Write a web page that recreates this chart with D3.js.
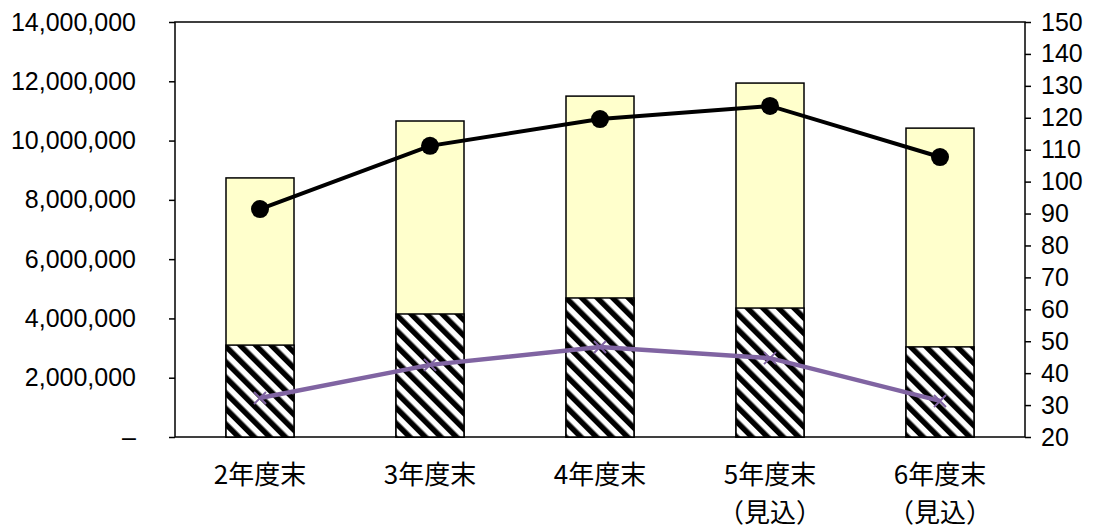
<!DOCTYPE html>
<html><head><meta charset="utf-8">
<script src="https://cdn.jsdelivr.net/npm/d3@7"></script>
<style>body{margin:0;background:#fff}svg{font-family:"Liberation Sans",Arial,sans-serif}</style>
</head><body><svg id="c" width="1109" height="531"></svg>
<script>
const categories=[["2年度末"],["3年度末"],["4年度末"],["5年度末","（見込）"],["6年度末","（見込）"]];
const totalValues=[8740000,10660000,11500000,11940000,10420000];
const hatchedValues=[3100000,4150000,4690000,4350000,3040000];
const blackLine=[91.4,111.2,119.6,123.7,107.7];
const purpleLine=[32.2,42.6,48.2,44.7,31.3];
const leftTicks=[0,2000000,4000000,6000000,8000000,10000000,12000000,14000000];
const rightTicks=d3.range(20,151,10);

const svg=d3.select("#c");
const L=175,R=1025,T=22,B=437;
const x=d3.scaleBand().domain(d3.range(5)).range([L,R]).paddingInner(0.6).paddingOuter(0.3);
const y=d3.scaleLinear().domain([0,14000000]).range([B,T]);
const y2=d3.scaleLinear().domain([20,150]).range([B,T]);

const defs=svg.append("defs");
const p=defs.append("pattern").attr("id","h").attr("patternUnits","userSpaceOnUse").attr("width",11).attr("height",11).attr("patternTransform","rotate(-45)");
p.append("rect").attr("width",11).attr("height",11).attr("fill","#fff");
p.append("rect").attr("x",0).attr("width",5.5).attr("height",11).attr("fill","#000");

svg.append("rect").attr("x",L).attr("y",T).attr("width",R-L).attr("height",B-T).attr("fill","none").attr("stroke","#000").attr("stroke-width",1.5);

const g=svg.append("g");
g.selectAll(".t").data(totalValues).join("rect").attr("x",(d,i)=>x(i)).attr("width",x.bandwidth())
 .attr("y",d=>y(d)).attr("height",d=>B-y(d)).attr("fill","#ffffcc").attr("stroke","#000").attr("stroke-width",1.5);
g.selectAll(".hh").data(hatchedValues).join("rect").attr("x",(d,i)=>x(i)).attr("width",x.bandwidth())
 .attr("y",d=>y(d)).attr("height",d=>B-y(d)).attr("fill","url(#h)").attr("stroke","#000").attr("stroke-width",1.5);

const cx=i=>x(i)+x.bandwidth()/2;
svg.append("path").datum(purpleLine).attr("fill","none").attr("stroke","#8064a2").attr("stroke-width",4.5)
 .attr("d",d3.line().x((d,i)=>cx(i)).y(d=>y2(d)));
purpleLine.forEach((d,i)=>{const s=6;svg.append("path").attr("d",`M${cx(i)-s},${y2(d)-s}L${cx(i)+s},${y2(d)+s}M${cx(i)-s},${y2(d)+s}L${cx(i)+s},${y2(d)-s}`).attr("stroke","#8064a2").attr("stroke-width",2);});
svg.append("path").datum(blackLine).attr("fill","none").attr("stroke","#000").attr("stroke-width",4)
 .attr("d",d3.line().x((d,i)=>cx(i)).y(d=>y2(d)));
svg.selectAll(".dot").data(blackLine).join("circle").attr("cx",(d,i)=>cx(i)).attr("cy",d=>y2(d)).attr("r",9).attr("fill","#000");

const la=svg.append("g").attr("transform",`translate(${L},0)`).call(d3.axisLeft(y).tickValues(leftTicks).tickSize(6).tickPadding(33).tickFormat(d=>d===0?"–":d3.format(",")(d)));
const ra=svg.append("g").attr("transform",`translate(${R},0)`).call(d3.axisRight(y2).tickValues(rightTicks).tickSize(6).tickPadding(10));
[la,ra].forEach(a=>{a.select(".domain").remove();a.selectAll("line").attr("stroke","#000").attr("stroke-width",1.5);a.selectAll("text").attr("font-size",25).attr("fill","#000").attr("font-family","'Liberation Sans',Arial,sans-serif");});

categories.forEach((c,i)=>{c.forEach((t,j)=>{svg.append("text").attr("x",cx(i)).attr("y",484+j*38).attr("text-anchor","middle")
 .attr("font-family","'Noto Sans CJK JP',sans-serif").attr("font-size",26).text(t);});});
</script></body></html>
